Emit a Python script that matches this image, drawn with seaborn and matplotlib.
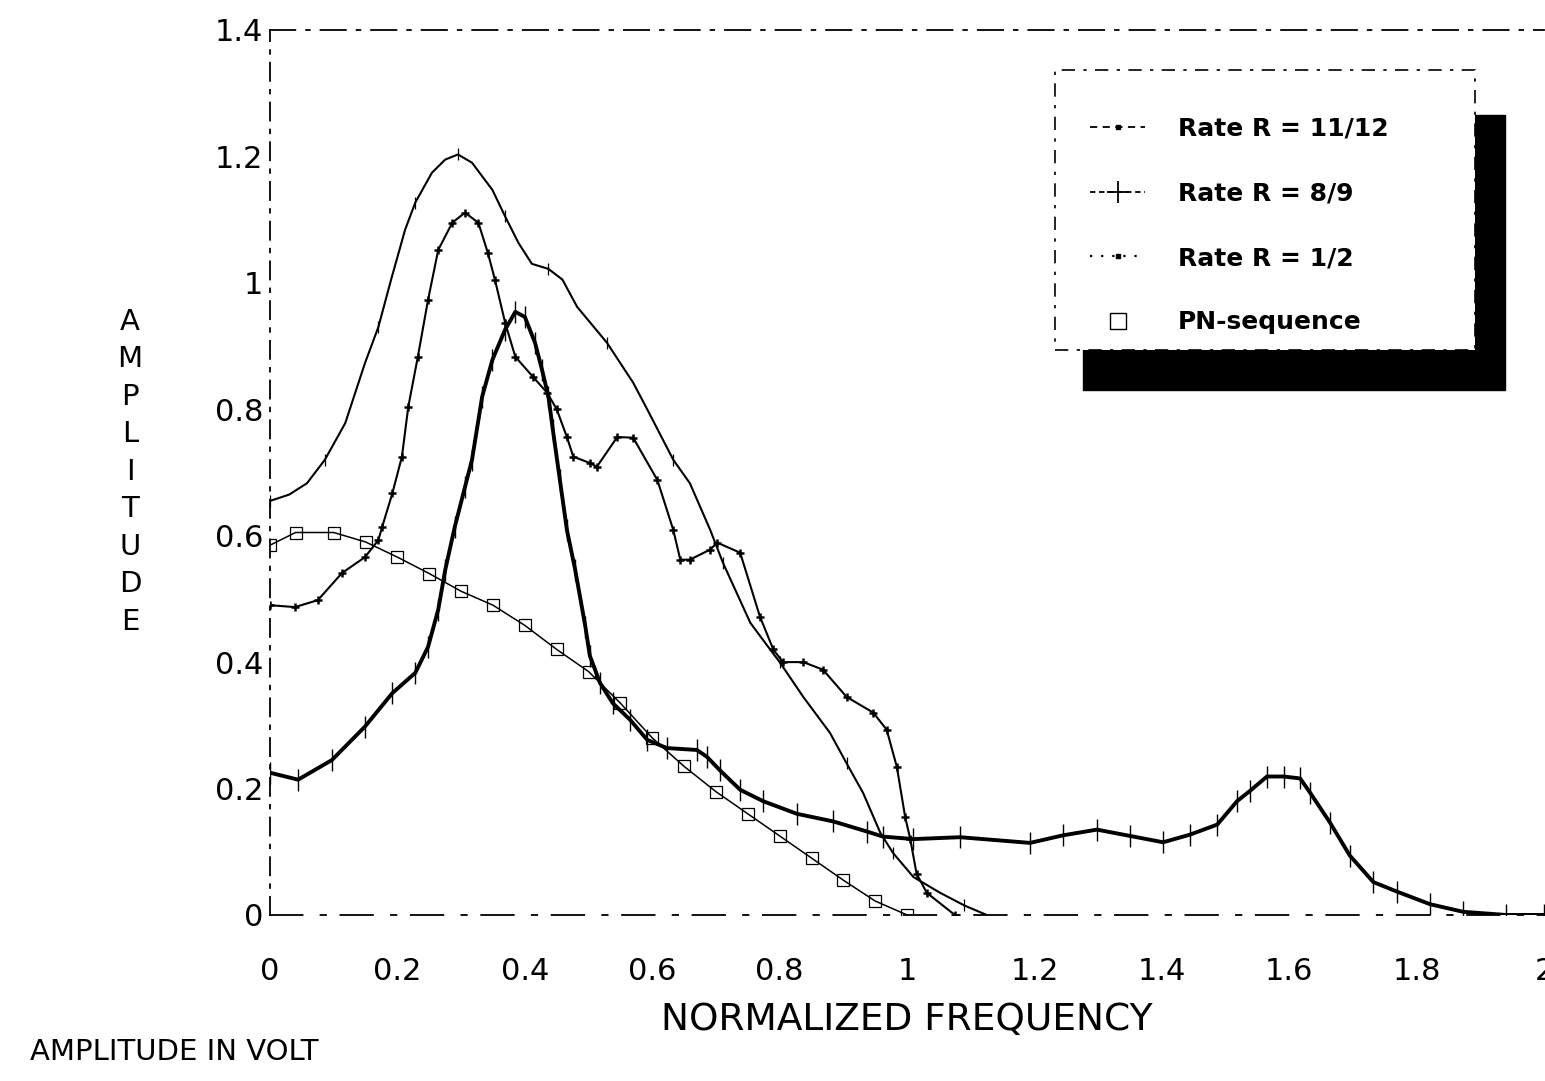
import matplotlib
matplotlib.use("Agg")
import matplotlib.pyplot as plt
import seaborn as sns
import pandas as pd
from matplotlib.lines import Line2D
from matplotlib.patches import Rectangle

# ---------------- data ----------------
rate_11_12_x = [0.0, 0.03, 0.058, 0.086, 0.118, 0.149, 0.17, 0.19, 0.212, 0.228, 0.254, 0.275,
                0.295, 0.317, 0.349, 0.369, 0.39, 0.411, 0.437, 0.459, 0.482, 0.529, 0.57, 0.592,
                0.633, 0.659, 0.691, 0.711, 0.754, 0.785, 0.80, 0.837, 0.879, 0.905, 0.931, 0.958,
                0.978, 1.01, 1.052, 1.09, 1.125]
rate_11_12_y = [0.655, 0.665, 0.683, 0.72, 0.778, 0.873, 0.93, 1.005, 1.084, 1.127, 1.174, 1.195,
                1.203, 1.19, 1.147, 1.105, 1.063, 1.03, 1.022, 1.005, 0.962, 0.905, 0.842, 0.80,
                0.72, 0.683, 0.609, 0.557, 0.462, 0.42, 0.40, 0.345, 0.288, 0.24, 0.193, 0.13,
                0.098, 0.06, 0.035, 0.015, 0.0]

rate_8_9_x = [0.0, 0.039, 0.075, 0.113, 0.149, 0.17, 0.176, 0.192, 0.207, 0.217, 0.232, 0.248,
              0.264, 0.286, 0.306, 0.327, 0.342, 0.353, 0.369, 0.385, 0.413, 0.435, 0.45, 0.466,
              0.476, 0.502, 0.513, 0.545, 0.57, 0.608, 0.633, 0.644, 0.659, 0.691, 0.702, 0.738,
              0.769, 0.79, 0.805, 0.837, 0.868, 0.905, 0.947, 0.968, 0.984, 0.997, 1.005, 1.015,
              1.031, 1.075]
rate_8_9_y = [0.49, 0.487, 0.498, 0.541, 0.566, 0.593, 0.614, 0.667, 0.725, 0.804, 0.883, 0.973,
              1.052, 1.095, 1.111, 1.095, 1.047, 1.005, 0.937, 0.883, 0.851, 0.826, 0.80, 0.756,
              0.725, 0.715, 0.709, 0.756, 0.755, 0.688, 0.609, 0.562, 0.562, 0.578, 0.589, 0.573,
              0.472, 0.42, 0.40, 0.40, 0.388, 0.345, 0.32, 0.293, 0.234, 0.155, 0.12, 0.065,
              0.035, 0.0]

rate_1_2_x = [0.0, 0.044, 0.097, 0.149, 0.192, 0.228, 0.248, 0.264, 0.275, 0.29, 0.306, 0.317,
              0.333, 0.349, 0.369, 0.385, 0.40, 0.416, 0.427, 0.437, 0.444, 0.455, 0.466, 0.479,
              0.495, 0.502, 0.518, 0.538, 0.565, 0.592, 0.623, 0.67, 0.686, 0.706, 0.738, 0.774,
              0.827, 0.884, 0.937, 0.962, 1.01, 1.083, 1.193, 1.245, 1.298, 1.35, 1.402, 1.444,
              1.487, 1.518, 1.538, 1.565, 1.591, 1.617, 1.633, 1.664, 1.695, 1.732, 1.769, 1.821,
              1.873, 1.94, 2.0]
rate_1_2_y = [0.225, 0.214, 0.245, 0.298, 0.351, 0.383, 0.424, 0.483, 0.546, 0.614, 0.677, 0.72,
              0.82, 0.878, 0.926, 0.954, 0.946, 0.905, 0.862, 0.82, 0.767, 0.688, 0.609, 0.546,
              0.456, 0.41, 0.367, 0.335, 0.309, 0.277, 0.264, 0.261, 0.25, 0.229, 0.198, 0.18,
              0.16, 0.148, 0.132, 0.124, 0.12, 0.123, 0.114, 0.126, 0.135, 0.125, 0.115, 0.127,
              0.143, 0.18, 0.196, 0.219, 0.219, 0.216, 0.193, 0.146, 0.094, 0.052, 0.037, 0.017,
              0.005, 0.0, 0.0]

pn_x = [0.0, 0.04, 0.1, 0.15, 0.2, 0.25, 0.3, 0.35, 0.4, 0.45, 0.5, 0.55, 0.6, 0.65, 0.7,
        0.75, 0.8, 0.85, 0.9, 0.95, 1.0]
pn_y = [0.585, 0.605, 0.605, 0.59, 0.566, 0.54, 0.512, 0.49, 0.458, 0.42, 0.385, 0.335, 0.28,
        0.235, 0.195, 0.16, 0.125, 0.09, 0.055, 0.022, 0.0]

x_ticks = [0, 0.2, 0.4, 0.6, 0.8, 1.0, 1.2, 1.4, 1.6, 1.8, 2.0]
x_tick_labels = ["0", "0.2", "0.4", "0.6", "0.8", "1", "1.2", "1.4", "1.6", "1.8", "2"]
y_ticks = [0, 0.2, 0.4, 0.6, 0.8, 1.0, 1.2, 1.4]
y_tick_labels = ["0", "0.2", "0.4", "0.6", "0.8", "1", "1.2", "1.4"]
legend_labels = ["Rate R = 11/12", "Rate R = 8/9", "Rate R = 1/2", "PN-sequence"]

# ---------------- styling ----------------
sns.set_theme(style="white")
plt.rcParams['font.family'] = ['DejaVu Sans']
plt.rcParams['text.color'] = 'black'

fig = plt.figure(figsize=(15.45, 10.81), dpi=100)
ax = fig.add_axes([0.1748, 0.1536, 0.8246, 0.8187])

df_a = pd.DataFrame({"x": rate_11_12_x, "y": rate_11_12_y})
df_b = pd.DataFrame({"x": rate_8_9_x, "y": rate_8_9_y})
df_c = pd.DataFrame({"x": rate_1_2_x, "y": rate_1_2_y})
df_d = pd.DataFrame({"x": pn_x, "y": pn_y})

sns.lineplot(data=df_d, x="x", y="y", ax=ax, color="black", lw=1.1, sort=False,
             estimator=None, marker="s", markersize=9, markerfacecolor="none",
             markeredgecolor="black", markeredgewidth=0.9, legend=False)
sns.lineplot(data=df_c, x="x", y="y", ax=ax, color="black", lw=2.8, sort=False,
             estimator=None, marker="|", markersize=16, markeredgewidth=1.0,
             markeredgecolor="black", legend=False)
sns.lineplot(data=df_a, x="x", y="y", ax=ax, color="black", lw=1.5, sort=False,
             estimator=None, marker="|", markersize=9, markeredgewidth=0.9,
             markeredgecolor="black", markevery=3, legend=False)
sns.lineplot(data=df_b, x="x", y="y", ax=ax, color="black", lw=1.5, sort=False,
             estimator=None, marker="+", markersize=6, markeredgewidth=1.8,
             markeredgecolor="black", legend=False)

ax.set_xlim(0, 2)
ax.set_ylim(0, 1.4)
ax.set_xticks(x_ticks)
ax.set_xticklabels(x_tick_labels)
ax.set_yticks(y_ticks)
ax.set_yticklabels(y_tick_labels)
ax.tick_params(axis="x", length=0, pad=30, labelsize=22, colors="black")
ax.tick_params(axis="y", length=0, pad=5, labelsize=22, colors="black")
ax.grid(False)

ax.spines["right"].set_visible(False)
for side, ls in [("top", (0, (14, 6, 2, 6))), ("left", (0, (10, 5, 2, 5))),
                 ("bottom", (0, (18, 10, 3, 8)))]:
    ax.spines[side].set_linestyle(ls)
    ax.spines[side].set_linewidth(1.3)
    ax.spines[side].set_color("black")

ax.set_xlabel("NORMALIZED FREQUENCY", fontsize=27, color="black")
ax.xaxis.set_label_coords(0.5, -0.098)
ax.set_ylabel("")

# stacked vertical y label
letters = "AMPLITUDE"
y_top, y_bot = 1 - 322 / 1081, 1 - 622 / 1081
for i, ch in enumerate(letters):
    fig.text(130 / 1545, y_top + (y_bot - y_top) * i / (len(letters) - 1), ch,
             ha="center", va="center", fontsize=21, color="black")

fig.text(30 / 1545, 1 - 1052 / 1081, "AMPLITUDE IN VOLT", ha="left", va="center",
         fontsize=21, color="black")

# legend box with heavy shadow
fig.patches.append(Rectangle((1083 / 1545, 1 - 390 / 1081), 422 / 1545, 275 / 1081,
                             transform=fig.transFigure, facecolor="black",
                             edgecolor="black", zorder=1))
fig.patches.append(Rectangle((1055 / 1545, 1 - 350 / 1081), 420 / 1545, 280 / 1081,
                             transform=fig.transFigure, facecolor="white",
                             edgecolor="black", linewidth=1.2,
                             linestyle=(0, (8, 5, 2, 5)), zorder=2))

handles = [
    Line2D([], [], color="black", lw=1.3, linestyle=(0, (4, 3)), marker="s", markersize=3),
    Line2D([], [], color="black", lw=1.3, linestyle=(0, (3, 2)), marker="+", markersize=16,
           markeredgewidth=1.3),
    Line2D([], [], color="black", lw=1.6, linestyle=(0, (1, 4)), marker="s", markersize=3),
    Line2D([], [], color="none", marker="s", markersize=12, markerfacecolor="none",
           markeredgecolor="black", markeredgewidth=1.0),
]
fig.legend(handles, legend_labels, loc="upper left",
           bbox_to_anchor=(1090 / 1545, 1 - 117 / 1081), bbox_transform=fig.transFigure,
           frameon=False, borderpad=0, borderaxespad=0, handlelength=2.2,
           handletextpad=1.3, labelspacing=1.62, labelcolor="black",
           prop={"size": 18, "weight": "bold"})

fig.savefig("out.png", dpi=100)
